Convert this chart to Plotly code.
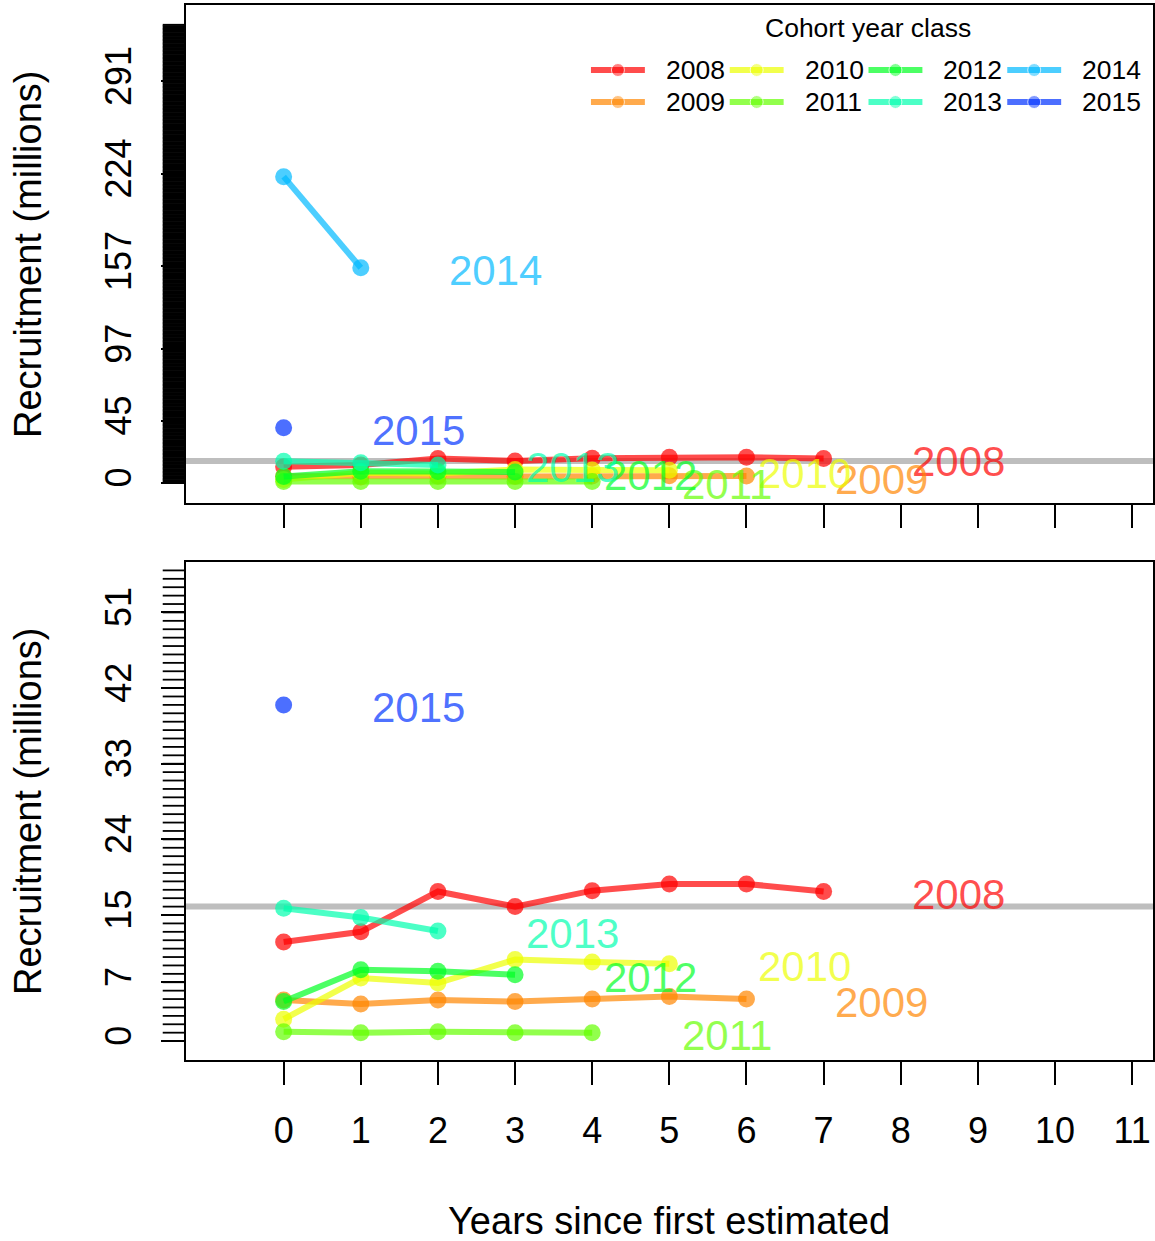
import plotly.graph_objects as go

W, H = 1155, 1241

# cohort year classes and recruitment estimates (millions) by years since first estimated
years = [2008, 2009, 2010, 2011, 2012, 2013, 2014, 2015]
r2008 = [11.8, 13.0, 17.8, 16.0, 17.9, 18.7, 18.7, 17.8]
r2009 = [4.9, 4.4, 4.9, 4.7, 5.0, 5.3, 5.0]
r2010 = [2.6, 7.5, 6.9, 9.7, 9.4, 9.2]
r2011 = [1.1, 1.0, 1.1, 1.0, 1.0]
r2012 = [4.7, 8.5, 8.3, 7.9]
r2013 = [15.8, 14.7, 13.1]
r2014 = [222, 156]
r2015 = [40]
series = [r2008, r2009, r2010, r2011, r2012, r2013, r2014, r2015]
ref_level = 16.0

top_ticks = [0, 45, 97, 157, 224, 291]
bot_ticks = [0, 7, 15, 24, 33, 42, 51]
x_ticks = list(range(0, 12))

base_cols = [(255, 0, 0), (255, 134, 0), (237, 255, 0), (100, 255, 0),
             (0, 255, 34), (0, 255, 174), (0, 185, 255), (0, 50, 255)]
ALPHA = 0.7


def rgba(c, a=ALPHA):
    return "rgba(%d,%d,%d,%.2f)" % (c[0], c[1], c[2], a)


def fx(p):
    return p / W


def fy(p):
    return 1 - p / H


FONT = "Liberation Sans, Arial, sans-serif"
top_range = [-14.5, 346.4]
bot_range = [-2.25, 57.0]
x_range = [-1.27, 11.27]

fig = go.Figure()

for yax, yr in (("y", top_range), ("y2", bot_range)):
    xax = "x" if yax == "y" else "x2"
    # reference line
    fig.add_trace(go.Scatter(x=x_range, y=[ref_level, ref_level], mode="lines",
                             line=dict(color="#BEBEBE", width=6),
                             xaxis=xax, yaxis=yax, showlegend=False, hoverinfo="skip"))
    for yr_lab, vals, c in zip(years, series, base_cols):
        xs = list(range(len(vals)))
        fig.add_trace(go.Scatter(x=xs, y=vals, mode="lines+markers",
                                 line=dict(color=rgba(c), width=6),
                                 marker=dict(color=rgba(c), size=17),
                                 xaxis=xax, yaxis=yax, showlegend=False,
                                 name=str(yr_lab)))
        lx = len(vals) - 1 + 1.75
        ly = vals[-1]
        if yr[0] <= ly <= yr[1]:
            fig.add_annotation(x=lx, y=ly, xref=xax, yref=yax, text=str(yr_lab),
                               showarrow=False, xanchor="center", yanchor="middle",
                               yshift=-3,
                               font=dict(family=FONT, size=42, color=rgba(c)))

# dense unit ticks along the y axes
shapes = []
for v in range(0, 333):
    shapes.append(dict(type="line", xref="paper", yref="y", x0=fx(163), x1=fx(186),
                       y0=v, y1=v, line=dict(color="black", width=2)))
for v in range(0, 57):
    shapes.append(dict(type="line", xref="paper", yref="y2", x0=fx(163), x1=fx(186),
                       y0=v, y1=v, line=dict(color="black", width=1.8)))

# legend (drawn by hand, R style, on an overlay axis in pixel units)
for i, (yr_lab, c) in enumerate(zip(years, base_cols)):
    col, row = i // 2, i % 2
    x0 = 592 + col * 139
    yy = 70 + row * 32
    fig.add_trace(go.Scatter(x=[x0, x0 + 27, x0 + 54], y=[yy, yy, yy], mode="lines+markers",
                             line=dict(color=rgba(c), width=6),
                             marker=dict(color=rgba(c), size=[0, 13, 0]),
                             xaxis="x3", yaxis="y3", showlegend=False, hoverinfo="skip"))
    fig.add_annotation(x=x0 + 73, y=yy, xref="x3", yref="y3", text=str(yr_lab),
                       showarrow=False, xanchor="left", yanchor="middle",
                       font=dict(family=FONT, size=26.5, color="black"))
fig.add_annotation(x=870, y=28, xref="x3", yref="y3", text="Cohort year class",
                   showarrow=False, xanchor="center", yanchor="middle",
                   font=dict(family=FONT, size=26.5, color="black"))

# axis titles
for cy in (254, 811):
    fig.add_annotation(x=fx(28), y=fy(cy), xref="paper", yref="paper",
                       text="Recruitment (millions)", textangle=-90, showarrow=False,
                       xanchor="center", yanchor="middle",
                       font=dict(family=FONT, size=38, color="black"))
fig.add_annotation(x=fx(670), y=fy(1221), xref="paper", yref="paper",
                   text="Years since first estimated", showarrow=False,
                   xanchor="center", yanchor="middle",
                   font=dict(family=FONT, size=38, color="black"))

axis_common = dict(showline=True, mirror=True, linecolor="black", linewidth=2,
                   showgrid=False, zeroline=False, ticks="outside", ticklen=23,
                   tickwidth=1.5, tickcolor="black",
                   tickfont=dict(family=FONT, size=36, color="black"))

fig.update_layout(
    width=W, height=H,
    margin=dict(l=0, r=0, t=0, b=0),
    paper_bgcolor="white", plot_bgcolor="rgba(0,0,0,0)",
    font=dict(family=FONT),
    shapes=shapes,
    xaxis=dict(domain=[fx(186), 1.0], range=x_range, anchor="y", tickvals=x_ticks,
               showticklabels=False, **axis_common),
    yaxis=dict(domain=[fy(503), fy(5)], range=top_range, anchor="x", tickvals=top_ticks,
               ticktext=[str(t) for t in top_ticks], tickangle=-90,
               ticklabelstandoff=15, **axis_common),
    xaxis2=dict(domain=[fx(186), 1.0], range=x_range, anchor="y2", tickvals=x_ticks,
                ticklabelstandoff=15, **axis_common),
    yaxis2=dict(domain=[fy(1060), fy(562)], range=bot_range, anchor="x2", tickvals=bot_ticks,
                ticktext=[str(t) for t in bot_ticks], tickangle=-90,
                ticklabelstandoff=15, **axis_common),
    xaxis3=dict(domain=[0, 1], range=[0, W], anchor="y3", visible=False, fixedrange=True),
    yaxis3=dict(domain=[0, 1], range=[H, 0], anchor="x3", visible=False, fixedrange=True),
)

fig.write_html("out.html", config={"displayModeBar": False},
               post_script="document.body.style.margin='0';")
